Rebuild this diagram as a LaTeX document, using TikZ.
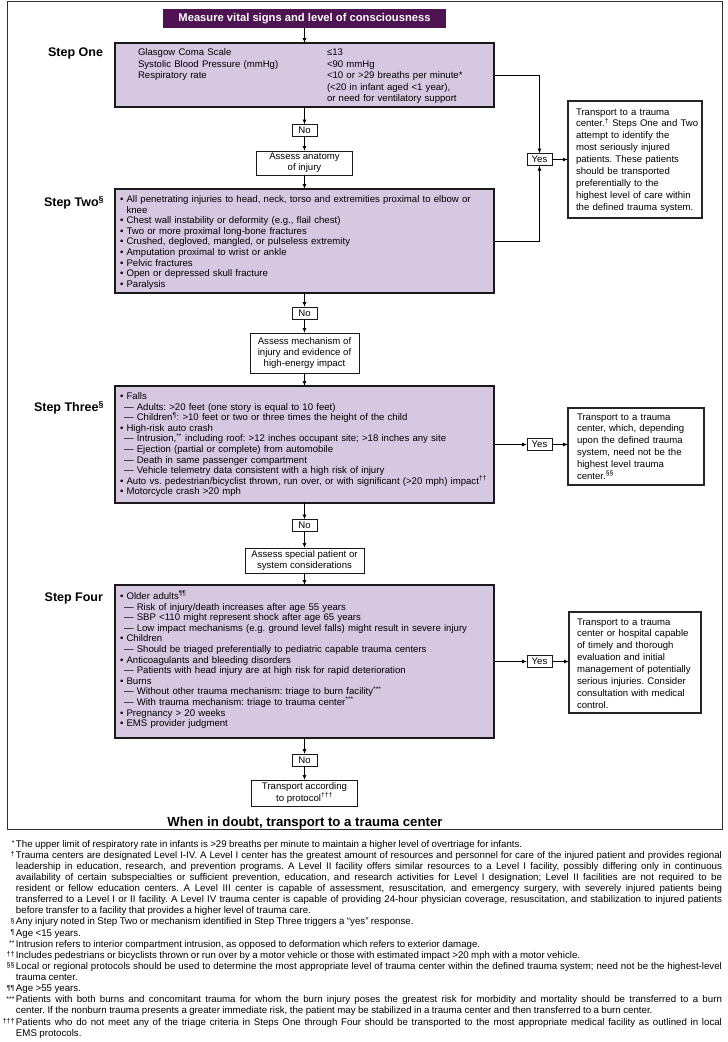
\documentclass[tikz,border=0pt]{standalone}
\usepackage{fontspec}
\setmainfont{Liberation Sans}
\usetikzlibrary{arrows.meta}
\definecolor{darkpurple}{RGB}{78,20,82}
\definecolor{lightpurple}{RGB}{214,200,224}
\definecolor{framegray}{RGB}{45,45,45}
\newcommand\boxfont{\fontsize{9.6}{10.6}\selectfont}
\newcommand\onefont{\fontsize{9.6}{11.6}\selectfont}
\newcommand\tfont{\fontsize{9.6}{11.9}\selectfont}
\newcommand\afont{\fontsize{9.6}{11.2}\selectfont}
\newcommand\labfont{\bfseries\fontsize{12.5}{14}\selectfont}
\newcommand\fnfont{\fontsize{9.7}{11.13}\selectfont\spaceskip=0.25em plus 0.6em minus 0.08em\relax}
\newcommand\fnmk{\fontsize{7}{8}\selectfont}
\newcommand\bul{\textbullet\ }
\newcommand\dsh{\hspace*{4pt}—\ }
\newcommand\sps[1]{\textsuperscript{#1}}
\tikzset{
  every node/.style={inner sep=0pt, outer sep=0pt},
  stepbox/.style={draw=black!90, line width=1.2pt, fill=lightpurple, rectangle, minimum width=379pt},
  plainbox/.style={draw=black!90, line width=1pt, fill=white, align=center, font=\afont},
  smallbox/.style={draw=black!90, line width=0.9pt, fill=white, minimum width=25pt, minimum height=12pt, font=\boxfont},
  tbox/.style={draw=black!85, line width=1.2pt, fill=white},
  arr/.style={-{Latex[length=5pt,width=4pt]}, line width=0.9pt},
  steplabel/.style={anchor=base east, font=\labfont},
  txt/.style={anchor=base west, text width=400pt, align=left, font=\boxfont},
  ttxt/.style={anchor=base west, text width=200pt, align=left, font=\tfont},
  fnm/.style={anchor=base east, font=\fnmk, yshift=1.5pt},
  fnt/.style={anchor=base west, text width=706pt, align=justify, font=\fnfont},
}
\begin{document}
\frenchspacing
\begin{tikzpicture}[x=1pt,y=-1pt]
\useasboundingbox (0,0) rectangle (728,1042);
\draw[framegray, line width=1pt] (7,1.5) rectangle (722,829);

% header
\node[fill=darkpurple, minimum width=283pt, minimum height=19pt, text=white,
      font=\bfseries\fontsize{11.2}{13}\selectfont] (head) at (304.5,18.5)
      {Measure vital signs and level of consciousness};

% step boxes
\node[stepbox, minimum height=64pt] (s1) at (304.5,75) {};
\node[stepbox, minimum height=104pt] (s2) at (304.5,241) {};
\node[stepbox, minimum height=117pt] (s3) at (304.5,444.5) {};
\node[stepbox, minimum height=153pt] (s4) at (304.5,661.5) {};

% labels
\node[steplabel] (l1) at (103,56.5) {Step One};
\node[steplabel] (l2) at (104,206.5) {Step Two\sps{§}};
\node[steplabel] (l3) at (104,411.5) {Step Three\sps{§}};
\node[steplabel] (l4) at (103,601.5) {Step Four};

% step one text
\node[txt, font=\onefont] (s1a) at (138,55.5)
  {Glasgow Coma Scale\\Systolic Blood Pressure (mmHg)\\Respiratory rate};
\node[txt, font=\onefont, text width=170pt] (s1b) at (327,55.5)
  {≤13\\<90 mmHg\\<10 or >29 breaths per minute*\\(<20 in infant aged <1 year),\\or need for ventilatory support};

% step two text
\node[txt] (s2t) at (120,202.5)
  {\bul All penetrating injuries to head, neck, torso and extremities proximal to elbow or\\
   \hphantom{\bul}knee\\
   \bul Chest wall instability or deformity (e.g., flail chest)\\
   \bul Two or more proximal long-bone fractures\\
   \bul Crushed, degloved, mangled, or pulseless extremity\\
   \bul Amputation proximal to wrist or ankle\\
   \bul Pelvic fractures\\
   \bul Open or depressed skull fracture\\
   \bul Paralysis};

% step three text
\node[txt] (s3t) at (120,399.5)
  {\bul Falls\\
   \dsh Adults: >20 feet (one story is equal to 10 feet)\\
   \dsh Children\sps{¶}: >10 feet or two or three times the height of the child\\
   \bul High-risk auto crash\\
   \dsh Intrusion,\sps{**} including roof: >12 inches occupant site; >18 inches any site\\
   \dsh Ejection (partial or complete) from automobile\\
   \dsh Death in same passenger compartment\\
   \dsh Vehicle telemetry data consistent with a high risk of injury\\
   \bul Auto vs. pedestrian/bicyclist thrown, run over, or with significant (>20 mph) impact\sps{††}\\
   \bul Motorcycle crash >20 mph};

% step four text
\node[txt] (s4t) at (120,599.5)
  {\bul Older adults\sps{¶¶}\\
   \dsh Risk of injury/death increases after age 55 years\\
   \dsh SBP <110 might represent shock after age 65 years\\
   \dsh Low impact mechanisms (e.g. ground level falls) might result in severe injury\\
   \bul Children\\
   \dsh Should be triaged preferentially to pediatric capable trauma centers\\
   \bul Anticoagulants and bleeding disorders\\
   \dsh Patients with head injury are at high risk for rapid deterioration\\
   \bul Burns\\
   \dsh Without other trauma mechanism: triage to burn facility\sps{***}\\
   \dsh With trauma mechanism: triage to trauma center\sps{***}\\
   \bul Pregnancy > 20 weeks\\
   \bul EMS provider judgment};

% no boxes
\node[smallbox] (n1) at (304.5,130.5) {No};
\node[smallbox] (n2) at (304.5,313) {No};
\node[smallbox] (n3) at (304.5,525.5) {No};
\node[smallbox] (n4) at (304.5,760) {No};

% assess boxes
\node[plainbox, minimum width=96pt, minimum height=24pt] (a1) at (304.5,163) {Assess anatomy\\of injury};
\node[plainbox, minimum width=109pt, minimum height=40pt] (a2) at (304.5,353) {Assess mechanism of\\injury and evidence of\\high-energy impact};
\node[plainbox, minimum width=119pt, minimum height=25pt] (a3) at (304.5,560.5) {Assess special patient or\\system considerations};
\node[plainbox, minimum width=106pt, minimum height=26pt] (a4) at (304.5,793) {Transport according\\to protocol\sps{†††}};

% yes boxes
\node[smallbox] (y1) at (539.5,159.5) {Yes};
\node[smallbox] (y2) at (539.5,444.5) {Yes};
\node[smallbox] (y3) at (539.5,661.5) {Yes};

% transport boxes
\node[tbox, minimum width=134pt, minimum height=117pt] (t1) at (635,159.5) {};
\node[tbox, minimum width=136pt, minimum height=77pt] (t2) at (636,446.5) {};
\node[tbox, minimum width=132pt, minimum height=101pt] (t3) at (635,662.5) {};
\node[ttxt] (t1t) at (576,115)
  {Transport to a trauma\\center.\sps{†} Steps One and Two\\attempt to identify the\\most seriously injured\\patients. These patients\\should be transported\\preferentially to the\\highest level of care within\\the defined trauma system.};
\node[ttxt] (t2t) at (577,420)
  {Transport to a trauma\\center, which, depending\\upon the defined trauma\\system, need not be the\\highest level trauma\\center.\sps{§§}};
\node[ttxt] (t3t) at (577,625)
  {Transport to a trauma\\center or hospital capable\\of timely and thorough\\evaluation and initial\\management of potentially\\serious injuries. Consider\\consultation with medical\\control.};

% connectors
\draw[arr] (head.south) -- (s1.north);
\draw[arr] (s1.south) -- (n1.north);
\draw[arr] (n1.south) -- (a1.north);
\draw[arr] (a1.south) -- (s2.north);
\draw[arr] (s2.south) -- (n2.north);
\draw[arr] (n2.south) -- (a2.north);
\draw[arr] (a2.south) -- (s3.north);
\draw[arr] (s3.south) -- (n3.north);
\draw[arr] (n3.south) -- (a3.north);
\draw[arr] (a3.south) -- (s4.north);
\draw[arr] (s4.south) -- (n4.north);
\draw[arr] (n4.south) -- (a4.north);
\draw[arr] (s1.east) -| (y1.north);
\draw[arr] (s2.east) -| (y1.south);
\draw[arr] (y1.east) -- (y1.east -| t1.west);
\draw[arr] (s3.east) -- (y2.west);
\draw[arr] (y2.east) -- (y2.east -| t2.west);
\draw[arr] (s4.east) -- (y3.west);
\draw[arr] (y3.east) -- (y3.east -| t3.west);

\node[anchor=base, font=\bfseries\fontsize{13.2}{15}\selectfont] (doubt) at (305,826) {When in doubt, transport to a trauma center};

% footnotes
\node[fnm] (f1m) at (14.5,847) {*};
\node[fnt] (f1) at (16,847) {The upper limit of respiratory rate in infants is >29 breaths per minute to maintain a higher level of overtriage for infants.};
\node[fnm] (f2m) at (14.5,858.13) {†};
\node[fnt] (f2) at (16,858.13) {Trauma centers are designated Level I-IV. A Level I center has the greatest amount of resources and personnel for care of the injured patient and provides regional\linebreak
leadership in education, research, and prevention programs. A Level II facility offers similar resources to a Level I facility, possibly differing only in continuous\linebreak
availability of certain subspecialties or sufficient prevention, education, and research activities for Level I designation; Level II facilities are not required to be\linebreak
resident or fellow education centers. A Level III center is capable of assessment, resuscitation, and emergency surgery, with severely injured patients being\linebreak
transferred to a Level I or II facility. A Level IV trauma center is capable of providing 24-hour physician coverage, resuscitation, and stabilization to injured patients\linebreak
before transfer to a facility that provides a higher level of trauma care.};
\node[fnm] (f3m) at (14.5,924.9) {§};
\node[fnt] (f3) at (16,924.9) {Any injury noted in Step Two or mechanism identified in Step Three triggers a “yes” response.};
\node[fnm] (f4m) at (14.5,936.0) {¶};
\node[fnt] (f4) at (16,936.0) {Age <15 years.};
\node[fnm] (f5m) at (14.5,947.2) {**};
\node[fnt] (f5) at (16,947.2) {Intrusion refers to interior compartment intrusion, as opposed to deformation which refers to exterior damage.};
\node[fnm] (f6m) at (14.5,958.3) {††};
\node[fnt] (f6) at (16,958.3) {Includes pedestrians or bicyclists thrown or run over by a motor vehicle or those with estimated impact >20 mph with a motor vehicle.};
\node[fnm] (f7m) at (14.5,969.4) {§§};
\node[fnt] (f7) at (16,969.4) {Local or regional protocols should be used to determine the most appropriate level of trauma center within the defined trauma system; need not be the highest-level\linebreak trauma center.};
\node[fnm] (f8m) at (14.5,991.7) {¶¶};
\node[fnt] (f8) at (16,991.7) {Age >55 years.};
\node[fnm] (f9m) at (14.5,1002.8) {***};
\node[fnt] (f9) at (16,1002.8) {Patients with both burns and concomitant trauma for whom the burn injury poses the greatest risk for morbidity and mortality should be transferred to a burn\linebreak center. If the nonburn trauma presents a greater immediate risk, the patient may be stabilized in a trauma center and then transferred to a burn center.};
\node[fnm] (f10m) at (14.5,1025.1) {†††};
\node[fnt] (f10) at (16,1025.1) {Patients who do not meet any of the triage criteria in Steps One through Four should be transported to the most appropriate medical facility as outlined in local\linebreak EMS protocols.};
\end{tikzpicture}
\end{document}
